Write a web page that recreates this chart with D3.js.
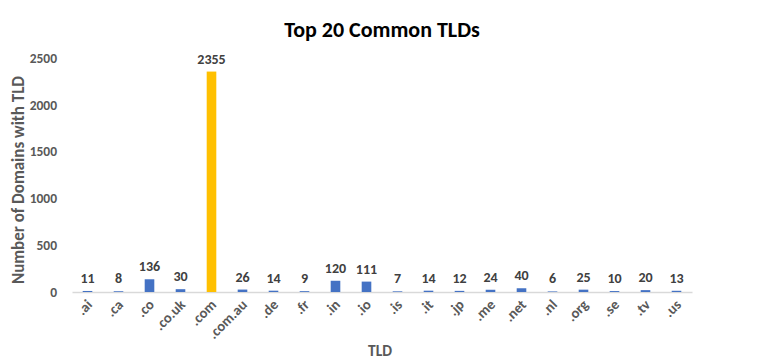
<!DOCTYPE html>
<html>
<head>
<meta charset="utf-8">
<script src="https://cdn.jsdelivr.net/npm/d3@7"></script>
<style>
  body { margin: 0; background: #fff; }
  svg text { font-family: Carlito, "Open Sans", "Liberation Sans", sans-serif; }
</style>
</head>
<body>
<svg id="chart"></svg>
<script>
const tlds = [".ai", ".ca", ".co", ".co.uk", ".com", ".com.au", ".de", ".fr", ".in", ".io",
  ".is", ".it", ".jp", ".me", ".net", ".nl", ".org", ".se", ".tv", ".us"];
const counts = [11, 8, 136, 30, 2355, 26, 14, 9, 120, 111, 7, 14, 12, 24, 40, 6, 25, 10, 20, 13];
const yTicks = [0, 500, 1000, 1500, 2000, 2500];
const highlight = ".com";

const width = 760, height = 362;
const margin = { top: 58, right: 68, bottom: 70, left: 72 };

const svg = d3.select('#chart')
  .attr('width', width)
  .attr('height', height);

const data = tlds.map((t, i) => ({ tld: t, value: counts[i] }));

const x = d3.scaleBand()
  .domain(tlds)
  .range([margin.left, width - margin.right])
  .paddingInner(0.69)
  .paddingOuter(0.345);

const y = d3.scaleLinear()
  .domain([0, 2500])
  .range([height - margin.bottom, margin.top]);

// title
svg.append('text')
  .attr('x', 382)
  .attr('y', 37)
  .attr('text-anchor', 'middle')
  .attr('font-size', 22)
  .attr('font-weight', 'bold')
  .attr('fill', '#000')
  .text('Top 20 Common TLDs');

// y axis labels (no line)
const yAxis = svg.append('g')
  .attr('transform', `translate(${margin.left - 15},0)`)
  .call(d3.axisLeft(y).tickValues(yTicks).tickFormat(d3.format('d')).tickSize(0).tickPadding(0));
yAxis.select('.domain').remove();
yAxis.selectAll('text')
  .attr('font-size', 13.5)
  .attr('font-weight', 'bold')
  .attr('fill', '#595959');

// x axis
const xAxis = svg.append('g')
  .attr('transform', `translate(0,${y(0)})`)
  .call(d3.axisBottom(x).tickSize(0).tickPadding(0));
xAxis.select('.domain')
  .attr('stroke', '#d9d9d9')
  .attr('stroke-width', 1.5);
xAxis.selectAll('text')
  .attr('font-size', 14.5)
  .attr('font-weight', 'bold')
  .attr('fill', '#595959')
  .attr('text-anchor', 'end')
  .attr('dy', '0.35em')
  .attr('transform', 'translate(2,10) rotate(-45)');

// bars
svg.append('g').selectAll('rect')
  .data(data)
  .enter()
  .append('rect')
  .attr('x', d => x(d.tld))
  .attr('width', x.bandwidth())
  .attr('y', d => y(d.value))
  .attr('height', d => y(0) - y(d.value))
  .attr('fill', d => d.tld === highlight ? '#FFC000' : '#4472C4');

// data labels
svg.append('g').selectAll('text')
  .data(data)
  .enter()
  .append('text')
  .attr('x', d => x(d.tld) + x.bandwidth() / 2)
  .attr('y', d => y(d.value) - 8)
  .attr('text-anchor', 'middle')
  .attr('font-size', 14)
  .attr('font-weight', 'bold')
  .attr('fill', '#404040')
  .text(d => d.value);

// axis titles
svg.append('text')
  .attr('transform', `translate(24,${(margin.top + y(0)) / 2 + 5}) rotate(-90)`)
  .attr('text-anchor', 'middle')
  .attr('font-size', 17)
  .attr('font-weight', 'bold')
  .attr('fill', '#595959')
  .text('Number of Domains with TLD');

svg.append('text')
  .attr('x', 380)
  .attr('y', 356)
  .attr('text-anchor', 'middle')
  .attr('font-size', 15.5)
  .attr('font-weight', 'bold')
  .attr('fill', '#595959')
  .text('TLD');
</script>
</body>
</html>
